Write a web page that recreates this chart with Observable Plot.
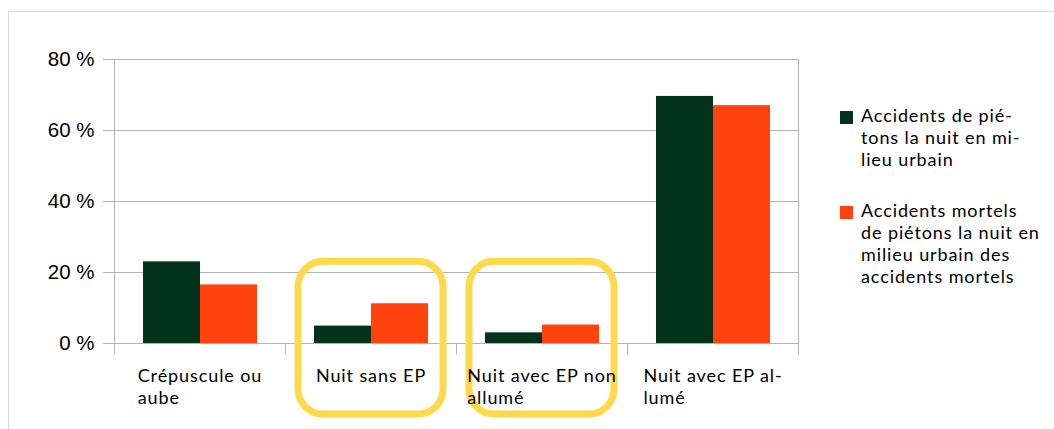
<!DOCTYPE html>
<html>
<head>
<meta charset="utf-8">
<script src="https://cdn.jsdelivr.net/npm/d3@7"></script>
<script src="https://cdn.jsdelivr.net/npm/@observablehq/plot@0.6"></script>
<style>
  html, body { margin: 0; padding: 0; background: #fff; }
  #wrap { position: relative; width: 1054px; height: 429px; overflow: hidden; }
  #outer { position: absolute; left: 8px; top: 11px; width: 1200px; height: 600px;
           border-top: 1px solid #d9d9d9; border-left: 1px solid #d9d9d9; }
  #chart svg { position: absolute; left: 0; top: 0; }
  #legend { position: absolute; left: 840px; top: 104px; font-family: Lato, sans-serif;
            font-size: 18px; line-height: 22px; letter-spacing: 0.9px; color: #000; }
  .entry { position: relative; padding-left: 21px; margin-bottom: 29px; white-space: nowrap; }
  .sw { position: absolute; left: 0; top: 7px; width: 13px; height: 13px; }
</style>
</head>
<body>
<div id="wrap">
  <div id="outer"></div>
  <div id="chart"></div>
  <div id="legend"></div>
</div>
<script>
// ---- data ----
const categories = ["Crépuscule ou aube", "Nuit sans EP", "Nuit avec EP non allumé", "Nuit avec EP allumé"];
const categoryLabels = ["Crépuscule ou\naube", "Nuit sans EP", "Nuit avec EP non\nallumé", "Nuit avec EP al-\nlumé"];
const series = [
  "Accidents de piétons la nuit en milieu urbain",
  "Accidents mortels de piétons la nuit en milieu urbain des accidents mortels"
];
const seriesLabels = [
  ["Accidents de pié-", "tons la nuit en mi-", "lieu urbain"],
  ["Accidents mortels", "de piétons la nuit en", "milieu urbain des", "accidents mortels"]
];
const pietons = [23.0, 4.9, 3.0, 69.6];
const mortels = [16.5, 11.2, 5.2, 67.0];
const yTicks = [0, 20, 40, 60, 80];
const highlighted = ["Nuit sans EP", "Nuit avec EP non allumé"];
const colors = ["#03331b", "#ff420e"];

const rows = [];
categories.forEach((c, i) => {
  rows.push({category: c, series: series[0], value: pietons[i]});
  rows.push({category: c, series: series[1], value: mortels[i]});
});

// ---- layout ----
const W = 1054, H = 429;
const mTop = 59, mBottom = 86, mLeft = 113, mRight = 255;
const plotH = H - mTop - mBottom;
const grid = "#b3b3b3";
const labelFont = "Lato, sans-serif";

const plot = Plot.plot({
  width: W, height: H,
  marginTop: mTop, marginBottom: mBottom, marginLeft: mLeft, marginRight: mRight,
  style: {background: "transparent"},
  fx: {domain: categories, paddingInner: 0, paddingOuter: 0, axis: null, label: null},
  x: {domain: series, paddingInner: 0, paddingOuter: 0.49, axis: null, label: null},
  y: {domain: [0, 80], axis: null, label: null},
  color: {domain: series, range: colors},
  marks: [
    Plot.gridY(yTicks, {stroke: grid, strokeOpacity: 1}),
    Plot.axisY(yTicks, {tickSize: 11, tickPadding: 9, tickFormat: d => `${d} %`,
      fontSize: 20.5, fontFamily: "Liberation Sans, Arial, sans-serif",
      stroke: grid, fill: "#000", label: null}),
    Plot.frame({facet: "super", anchor: "left", stroke: grid, strokeOpacity: 1, insetBottom: -10}),
    Plot.frame({facet: "super", anchor: "right", stroke: grid, strokeOpacity: 1, insetBottom: -10}),
    Plot.frame({anchor: "left", stroke: grid, strokeOpacity: 1, insetTop: plotH, insetBottom: -10}),
    Plot.barY(rows, {fx: "category", x: "series", y: "value", fill: "series"}),
    Plot.rect(highlighted, {fx: d => d, y1: -20, y2: 23, insetLeft: 13, insetRight: 13, rx: 25,
      fill: "none", stroke: "#ffd94c", strokeWidth: 7}),
    Plot.text(categories, {fx: d => d, text: (d, i) => categoryLabels[i],
      frameAnchor: "bottom", lineAnchor: "top", dy: 22.5, lineHeight: 22 / 18,
      fontSize: 18, fontFamily: labelFont, fill: "#000"})
  ]
});
document.getElementById("chart").append(plot);

// left-align the lines of each category label as a centred block
d3.select(plot).selectAll('g[aria-label="text"]').style("letter-spacing", "0.9px");
d3.select(plot).selectAll('g[aria-label="text"] text').each(function () {
  const bb = this.getBBox();
  this.setAttribute("text-anchor", "start");
  const spans = this.querySelectorAll("tspan");
  if (spans.length) spans.forEach(s => s.setAttribute("x", bb.x));
  else this.setAttribute("x", bb.x);
});

// legend
const colorScale = plot.scale("color");
const legend = d3.select("#legend");
series.forEach((s, i) => {
  const e = legend.append("div").attr("class", "entry");
  e.append("div").attr("class", "sw").style("background", colorScale.apply(s));
  e.append("div").html(seriesLabels[i].join("<br>"));
});
</script>
</body>
</html>
